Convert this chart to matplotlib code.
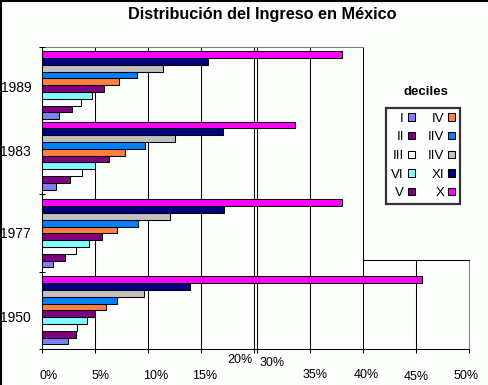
import numpy as np
import matplotlib
matplotlib.use("Agg")
import matplotlib.pyplot as plt
from matplotlib.patches import Patch
from matplotlib.lines import Line2D
from matplotlib.transforms import blended_transform_factory, ScaledTranslation

plt.rcParams['font.family'] = ['Liberation Sans', 'DejaVu Sans']

# ---------------- data ----------------
years = ['1950', '1977', '1983', '1989']
deciles = ['I', 'II', 'III', 'VI', 'V', 'IV', 'IIV', 'IIV', 'XI', 'X']
colors = ['#8080FF', '#800080', '#FFFFFF', '#80FFFF', '#800080',
          '#FF8040', '#0080FF', '#C0C0C0', '#000080', '#FF00FF']
d1950 = [2.45, 3.15, 3.25, 4.25, 4.95, 6.0, 7.0, 9.6, 13.9, 45.5]
d1977 = [1.04, 2.17, 3.2, 4.43, 5.66, 7.08, 9.06, 12.0, 17.1, 38.0]
d1983 = [1.32, 2.64, 3.77, 5.0, 6.32, 7.83, 9.72, 12.55, 17.0, 33.6]
d1989 = [1.6, 2.83, 3.68, 4.72, 5.85, 7.26, 8.96, 11.4, 15.66, 38.0]
series = [d1950, d1977, d1983, d1989]
xtick_vals = [0, 5, 10, 15, 20, 30, 35, 40, 45, 50]
xtick_labels = [f'{v}%' for v in xtick_vals]

# ---------------- layout ----------------
W, H = 488, 385
PX = 6.8  # pixels per bar unit
group_bottom = [0.69, 12.01, 23.45, 33.8]
ytop = 44.41
ybounds = [0, 11.32, 22.79, ytop]
ystep = 13.09
year_label_px = [317, 233, 151, 87]
# per-label offsets (px right, px down)
lab_dx = [6, 5, 7, 3, -14, 15, 4.5, 3, 0, -3]
lab_dy = [0, 0, 0, 0, -16, -13, -1, -1, 1, 0]

k = 3.0 / 10.6 / 10.0  # compression factor for 20-30% stretch


def fwd(x):
    x = np.asarray(x, dtype=float)
    c = 10 * k
    return np.where(x < 20, x, np.where(x < 30, 20 + (x - 20) * k, x - 10 + c))


def inv(y):
    y = np.asarray(y, dtype=float)
    c = 10 * k
    return np.where(y < 20, y, np.where(y < 20 + c, 20 + (y - 20) / k, y + 10 - c))


bg = '#fbfefb'
fig = plt.figure(figsize=(W / 100, H / 100), dpi=100, facecolor=bg)
ax = fig.add_axes([42.3 / W, (H - 349) / H, 427 / W, 302 / H])
ax.set_facecolor('none')
ax.set_xscale('function', functions=(fwd, inv))
ax.set_xlim(0, 50)
ax.set_ylim(0, ytop)

lw = 0.75
# gridlines
for v in xtick_vals[1:8]:
    ax.plot([v, v], [0, ytop], color='black', lw=lw, zorder=1)
ax.plot([45, 45], [0, ystep], color='black', lw=lw, zorder=1)
ax.plot([50, 50], [0, ystep], color='#808080', lw=lw, zorder=1, clip_on=False)
ax.plot([40, 50], [ystep, ystep], color='black', lw=lw, zorder=1, clip_on=False)
ax.plot([0, 40], [ytop, ytop], color='#808080', lw=lw, zorder=1, clip_on=False)

# bars
for j in range(len(deciles)):
    ys = [group_bottom[g] + j + 0.5 for g in range(len(years))]
    vals = [series[g][j] for g in range(len(years))]
    ax.barh(ys, vals, height=1.0, color=colors[j], edgecolor='black',
            linewidth=lw, zorder=3)

# spines
for s in ['top', 'right']:
    ax.spines[s].set_visible(False)
for s in ['left', 'bottom']:
    ax.spines[s].set_color('black')
    ax.spines[s].set_linewidth(lw)

# x ticks
ax.set_xticks(xtick_vals)
ax.set_xticklabels([])
ax.tick_params(axis='x', which='major', direction='out', length=3, width=lw, color='black')
trans = blended_transform_factory(ax.transData, ax.transAxes)
for v, lab, dx, dy in zip(xtick_vals, xtick_labels, lab_dx, lab_dy):
    off = ScaledTranslation(dx / 100, -(27 + dy) / 100, fig.dpi_scale_trans)
    ax.text(v, 0, lab, transform=trans + off, ha='center', va='center',
            fontsize=9, color='black')

# y ticks
ax.set_yticks([(349 - p) / PX for p in year_label_px])
ax.set_yticklabels(years, fontsize=10)
ax.tick_params(axis='y', which='major', length=0, pad=8.0)
ax.set_yticks(ybounds, minor=True)
ax.tick_params(axis='y', which='minor', direction='inout', length=5, width=lw, color='black')

# title
fig.text(262 / W, 1 - 15 / H, 'Distribución del Ingreso en México', ha='center', va='center',
         fontsize=11.7, fontweight='bold')

# legend
handles = [Patch(facecolor=c, edgecolor='black', linewidth=lw) for c in colors]
leg = fig.legend(handles, deciles, ncol=2, markerfirst=False,
                 loc='center', bbox_to_anchor=(423 / W, 1 - 156 / H),
                 fontsize=9.5, handlelength=0.5, handleheight=0.5,
                 handletextpad=0.3, columnspacing=1.0, labelspacing=0.5,
                 borderpad=0.4, frameon=True, fancybox=False)
leg.get_frame().set_edgecolor('black')
leg.get_frame().set_linewidth(1.6)
leg.get_frame().set_facecolor(bg)
fig.text(425.5 / W, 1 - 92 / H, 'deciles', ha='center', va='center', fontsize=9.5,
         fontweight='bold')

# figure border (top/left)
fig.add_artist(Line2D([0, 1], [1 - 0.5 / H, 1 - 0.5 / H], transform=fig.transFigure,
                      color='black', lw=1.5))
fig.add_artist(Line2D([0.5 / W, 0.5 / W], [0, 1], transform=fig.transFigure,
                      color='black', lw=1.5))

fig.savefig('out.png', dpi=100, facecolor=bg)
